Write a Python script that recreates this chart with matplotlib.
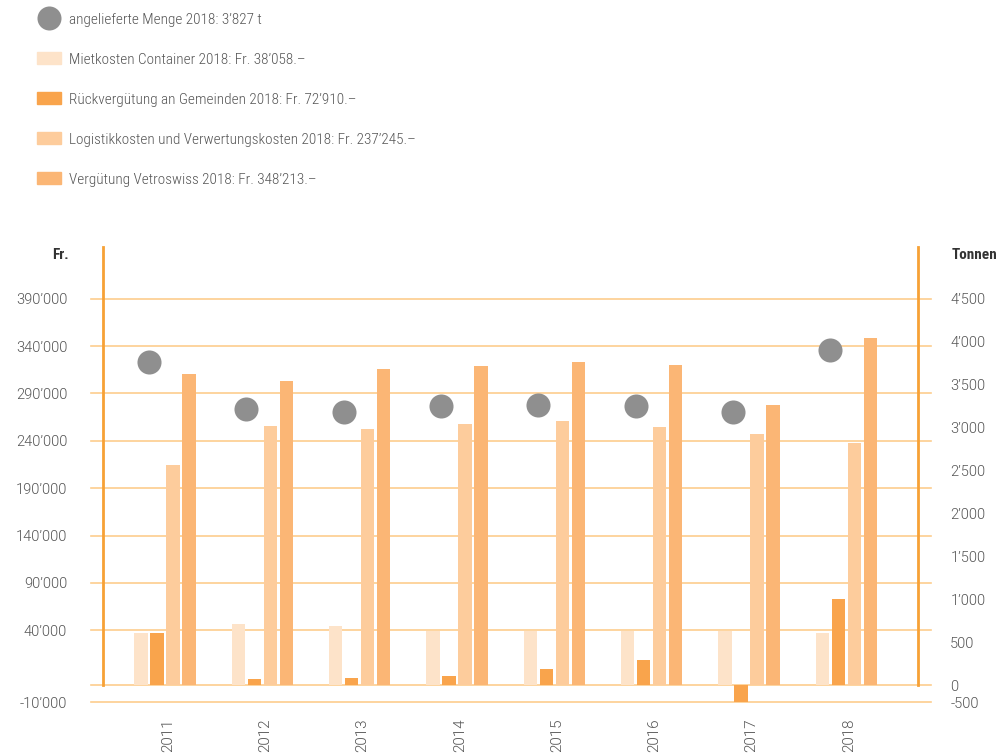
import matplotlib

matplotlib.use("Agg")
import matplotlib.pyplot as plt
import numpy as np
from matplotlib.lines import Line2D
from matplotlib.patches import Patch
from matplotlib.transforms import ScaledTranslation

years = ["2011", "2012", "2013", "2014", "2015", "2016", "2017", "2018"]
mietkosten = [38300, 47000, 44900, 39700, 39700, 39500, 39500, 38058]
rueckverguetung = [38300, 4600, 5300, 6800, 11900, 18400, -9800, 72910]
logistik = [214500, 255600, 252500, 257700, 260900, 254600, 247200, 237245]
verguetung = [310800, 303100, 315800, 319000, 323200, 320000, 277500, 348213]
menge_t = [3770, 3220, 3185, 3255, 3265, 3255, 3180, 3910]

fr_ticks = [-10000, 40000, 90000, 140000, 190000, 240000, 290000, 340000, 390000]
t_ticks = [-500, 0, 500, 1000, 1500, 2000, 2500, 3000, 3500, 4000, 4500]

legend_labels = [
    "angelieferte Menge 2018: 3\u2019827 t",
    "Mietkosten Container 2018: Fr. 38\u2019058.\u2013",
    "R\u00fcckverg\u00fctung an Gemeinden 2018: Fr. 72\u2019910.\u2013",
    "Logistikkosten und Verwertungskosten 2018: Fr. 237\u2019245.\u2013",
    "Verg\u00fctung Vetroswiss 2018: Fr. 348\u2019213.\u2013",
]

C_MIET = "#fde3c9"
C_RUECK = "#f9a44c"
C_LOG = "#fdcc9c"
C_VERG = "#fbb675"
C_DOT = "#8f8f8f"
C_GRID = "#fdcd8e"
C_SPINE = "#f7a136"
C_TEXT = "#555555"

CONDENSED = ["Roboto Condensed", "DejaVu Sans"]
PLAIN = ["Roboto", "DejaVu Sans"]


def fmt(v):
    return f"{v:,}".replace(",", "\u2019")


def piecewise_scale(values, pixels):
    # the original chart stretches the band near zero, so both axes
    # use a piecewise-linear scale through these knots
    v = np.array(values, dtype=float)
    p = np.array(pixels, dtype=float)
    lo = (p[1] - p[0]) / (v[1] - v[0])
    hi = (p[-1] - p[-2]) / (v[-1] - v[-2])
    far = 1e7
    v_ext = np.concatenate([[v[0] - far], v, [v[-1] + far]])
    p_ext = np.concatenate([[p[0] - far * lo], p, [p[-1] + far * hi]])

    def forward(x):
        return np.interp(x, v_ext, p_ext)

    def inverse(y):
        return np.interp(y, p_ext, v_ext)

    return forward, inverse


fr_fwd, fr_inv = piecewise_scale([-10000, 0, 40000, 390000], [-17, 0, 55, 386.6])
t_fwd, t_inv = piecewise_scale([-500, 0, 4500], [-17.5, 0, 386.3])
px_bottom, px_top = -18, 438

fig = plt.figure(figsize=(10.08, 7.54), dpi=100)
ax = fig.add_axes([103.3 / 1008, 1 - 703.3 / 754, 815 / 1008, 456 / 754])
ax.set_yscale("function", functions=(fr_fwd, fr_inv))
ax.set_ylim(fr_inv(px_bottom), fr_inv(px_top))

x = np.arange(len(years))
step = 0.1645
width = 0.137
series = [(mietkosten, C_MIET), (rueckverguetung, C_RUECK), (logistik, C_LOG), (verguetung, C_VERG)]
for k, (values, color) in enumerate(series):
    ax.bar(x + (k - 1.5) * step, values, width=width, color=color, zorder=2)

ax.set_xlim(-0.635, 7.741)

for v in [0] + fr_ticks:
    ax.axhline(v, xmin=-0.0155, xmax=1.0155, color=C_GRID, linewidth=1.2, clip_on=False, zorder=1)

for side in ["top", "bottom"]:
    ax.spines[side].set_visible(False)
for side in ["left", "right"]:
    ax.spines[side].set_color(C_SPINE)
    ax.spines[side].set_linewidth(2)
    ax.spines[side].set_bounds(0, fr_inv(px_top))

ax.set_yticks(fr_ticks)
ax.set_yticklabels([fmt(v) for v in fr_ticks], family=PLAIN, weight=300, fontsize=10.5, color=C_TEXT)
ax.tick_params(axis="y", length=0, pad=26)
ax.set_xticks(x)
ax.set_xticklabels(years, rotation=90, family=PLAIN, weight=300, fontsize=11, color=C_TEXT, va="top")
ax.tick_params(axis="x", length=0, pad=11)
shift = ScaledTranslation(2 / 72, 0, fig.dpi_scale_trans)
for label in ax.get_xticklabels():
    label.set_transform(label.get_transform() + shift)

ax2 = ax.twinx()
ax2.set_yscale("function", functions=(t_fwd, t_inv))
ax2.set_ylim(t_inv(px_bottom), t_inv(px_top))
ax2.scatter(x - step, menge_t, s=300, color=C_DOT, linewidths=0, zorder=3)
for side in ["top", "bottom", "left", "right"]:
    ax2.spines[side].set_visible(False)
ax2.set_yticks(t_ticks)
ax2.set_yticklabels([fmt(v) for v in t_ticks], family=PLAIN, weight=300, fontsize=10.5, color=C_TEXT)
ax2.tick_params(axis="y", length=0, pad=23)

fig.text(68.3 / 1008, 1 - 255 / 754, "Fr.", ha="right", va="center",
         family=CONDENSED, fontsize=11, fontweight="bold", color="#333333")
fig.text(952 / 1008, 1 - 255 / 754, "Tonnen", ha="left", va="center",
         family=CONDENSED, fontsize=11, fontweight="bold", color="#333333")

handles = [
    Line2D([], [], marker="o", linestyle="none", markersize=17.3, color=C_DOT, markeredgewidth=0),
    Patch(color=C_MIET),
    Patch(color=C_RUECK),
    Patch(color=C_LOG),
    Patch(color=C_VERG),
]
fig.legend(
    handles,
    legend_labels,
    loc="upper left",
    bbox_to_anchor=(36.7 / 1008, 1 - 12.5 / 754),
    frameon=False,
    borderpad=0,
    borderaxespad=0,
    handlelength=1.6,
    handleheight=0.8,
    handletextpad=0.5,
    labelspacing=1.69,
    prop={"family": CONDENSED, "weight": 300, "size": 11},
    labelcolor=C_TEXT,
)

fig.savefig("out.png", dpi=100)
